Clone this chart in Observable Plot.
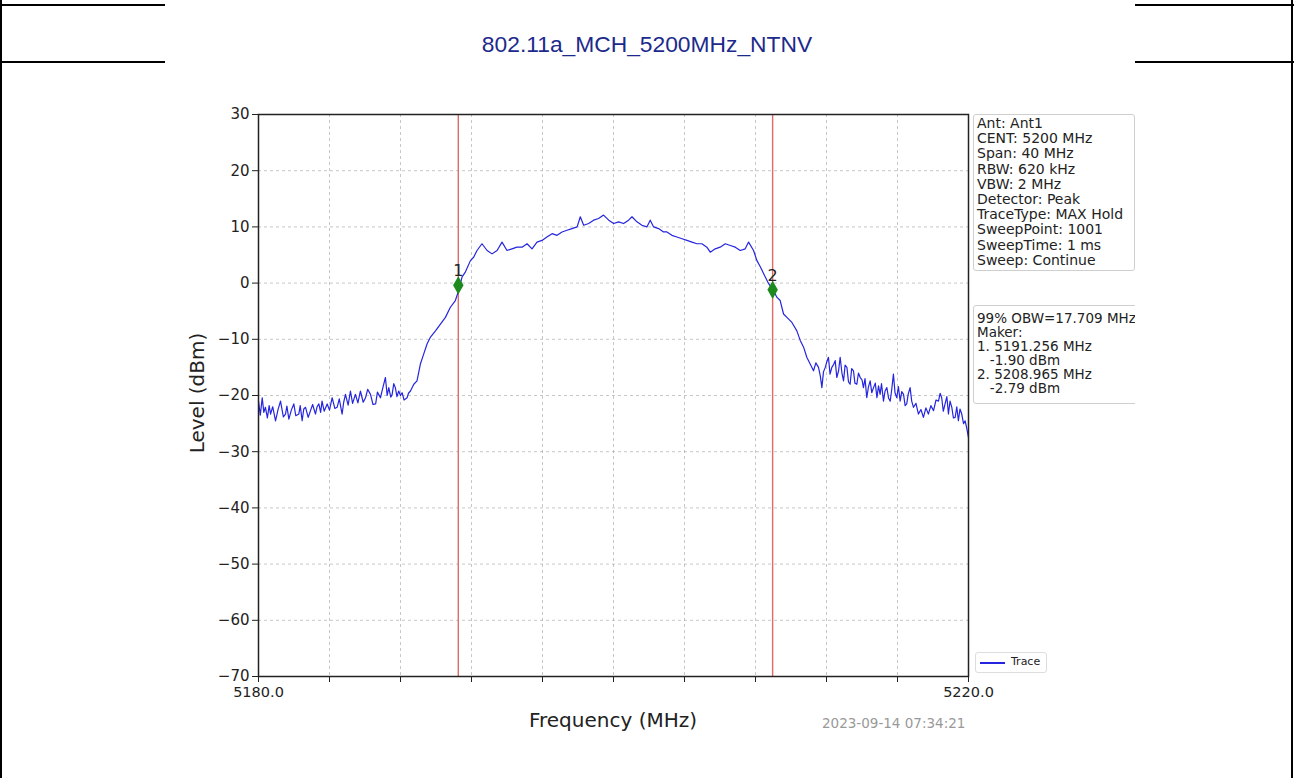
<!DOCTYPE html>
<html>
<head>
<meta charset="utf-8">
<script src="https://cdn.jsdelivr.net/npm/d3@7"></script>
<script src="https://cdn.jsdelivr.net/npm/@observablehq/plot@0.6"></script>
<style>
  body { margin: 0; background: #fff; }
  #page { position: relative; width: 1294px; height: 778px; overflow: hidden; background: #fff; font-family: "DejaVu Sans", sans-serif; color: #222; }
  .bar { position: absolute; background: #000; }
  .abs { position: absolute; white-space: nowrap; }
  .box { position: absolute; border: 1px solid #cfcfcf; border-radius: 3px; background: #fff; font-size: 14px; color: #222; padding: 1px 3px; box-sizing: border-box; overflow: hidden; white-space: nowrap; }
</style>
</head>
<body>
<div id="page">
  <div class="bar" style="left:0;top:0;width:2px;height:778px"></div>
  <div class="bar" style="left:1291px;top:0;width:2px;height:778px"></div>
  <div class="bar" style="left:0;top:4px;width:165px;height:2px"></div>
  <div class="bar" style="left:1135px;top:4px;width:159px;height:2px"></div>
  <div class="bar" style="left:0;top:61px;width:165px;height:2px"></div>
  <div class="bar" style="left:1135px;top:61px;width:159px;height:2px"></div>
  <div id="title" class="abs" style="left:0;width:1294px;top:31px;text-align:center;font-family:'Liberation Sans',Arial,sans-serif;font-size:22.8px;color:#1c2a8c;"></div>
  <div id="chart" style="position:absolute;left:0;top:0"></div>
  <div id="ylabel" class="abs" style="left:197px;top:393px;transform:translate(-50%,-50%) rotate(-90deg);font-size:20px;color:#222;"></div>
  <div id="xlabel" class="abs" style="left:613px;top:720px;transform:translate(-50%,-50%);font-size:20px;color:#222;"></div>
  <div id="stamp" class="abs" style="left:822px;top:723px;transform:translate(0,-50%);font-size:13.5px;color:#999;"></div>
  <div id="info1" class="box" style="left:973px;top:114px;width:162px;height:157px;line-height:15.2px;padding-top:1px"></div>
  <div style="position:absolute;left:973px;top:305px;width:162px;height:99px;overflow:hidden">
    <div id="info2" class="box" style="left:0;top:0;width:190px;height:99px;font-size:13.5px;line-height:14px;padding-top:5px"></div>
  </div>
  <div class="box" style="left:975px;top:652px;width:72px;height:21px;border-color:#ddd">
    <div style="position:absolute;left:4px;top:9px;width:25px;height:1.5px;background:#2525e0"></div>
    <div id="legendText" class="abs" style="left:35px;top:2px;font-size:11px;color:#222"></div>
  </div>
</div>
<script>
// ---- data ----
const titleText = "802.11a_MCH_5200MHz_NTNV";
const yLabel = "Level (dBm)";
const xLabel = "Frequency (MHz)";
const stampText = "2023-09-14 07:34:21";
const legendLabel = "Trace";

const xTicks = [5180, 5184, 5188, 5192, 5196, 5200, 5204, 5208, 5212, 5216, 5220];
const xLabelTicks = [5180, 5220];
const yTicks = [30, 20, 10, 0, -10, -20, -30, -40, -50, -60, -70];

const infoLines = ["Ant: Ant1", "CENT: 5200 MHz", "Span: 40 MHz", "RBW: 620 kHz", "VBW: 2 MHz",
  "Detector: Peak", "TraceType: MAX Hold", "SweepPoint: 1001", "SweepTime: 1 ms", "Sweep: Continue"];
const markerInfoLines = ["99% OBW=17.709 MHz", "Maker:", "1. 5191.256 MHz", "\u00a0\u00a0\u00a0-1.90 dBm", "2. 5208.965 MHz", "\u00a0\u00a0\u00a0-2.79 dBm"];

const markerLabels = ["1", "2"];
const markerFreq = [5191.256, 5208.965];
const markerLevel = [-0.4, -1.2];

const traceFreq = [
  5180.00, 5180.10, 5180.21, 5180.30, 5180.39, 5180.50, 5180.60, 5180.68, 5180.80, 5180.96,
  5181.10, 5181.24, 5181.40, 5181.52, 5181.60, 5181.71, 5181.85, 5181.99, 5182.10, 5182.27,
  5182.35, 5182.46, 5182.55, 5182.65, 5182.80, 5182.93, 5183.05, 5183.21, 5183.30, 5183.40,
  5183.50, 5183.58, 5183.70, 5183.87, 5184.00, 5184.15, 5184.30, 5184.43, 5184.55, 5184.71,
  5184.80, 5184.90, 5185.05, 5185.18, 5185.30, 5185.46, 5185.60, 5185.74, 5185.90, 5186.03,
  5186.15, 5186.31, 5186.45, 5186.60, 5186.70, 5186.87, 5187.00, 5187.15, 5187.25, 5187.34,
  5187.45, 5187.53, 5187.62, 5187.71, 5187.80, 5187.90, 5188.00, 5188.09, 5188.20, 5188.37,
  5188.45, 5188.56, 5188.75,
  5188.93, 5189.12, 5189.31, 5189.50, 5189.69, 5189.97, 5190.25, 5190.53, 5190.81, 5191.09,
  5191.28, 5191.47, 5191.66, 5191.94, 5192.12, 5192.31, 5192.59, 5192.88, 5193.16, 5193.44,
  5193.72, 5194.00, 5194.28, 5194.56, 5194.85, 5195.13, 5195.41, 5195.69, 5195.97, 5196.25,
  5196.54, 5196.82, 5197.10, 5197.38, 5197.66, 5197.95, 5198.13, 5198.32, 5198.60, 5198.88,
  5199.16, 5199.44, 5199.73, 5200.01,
  5200.29, 5200.57, 5200.85, 5201.04, 5201.32, 5201.60, 5201.88, 5202.07, 5202.26, 5202.54,
  5202.82, 5203.01, 5203.29, 5203.57, 5203.86, 5204.14, 5204.42, 5204.70, 5204.98, 5205.26,
  5205.45, 5205.73, 5206.01, 5206.30, 5206.58, 5206.86, 5207.14, 5207.42, 5207.61, 5207.89,
  5208.08, 5208.27, 5208.55, 5208.74, 5209.02, 5209.20, 5209.39, 5209.58, 5209.77, 5210.05,
  5210.33, 5210.52, 5210.71, 5210.89, 5211.08,
  5211.27, 5211.40, 5211.55, 5211.65, 5211.74, 5211.83, 5211.93, 5212.02, 5212.11, 5212.20,
  5212.30, 5212.40, 5212.49, 5212.58, 5212.68, 5212.77, 5212.87, 5212.96, 5213.05, 5213.15,
  5213.24, 5213.33, 5213.42, 5213.52, 5213.60, 5213.71, 5213.80, 5213.90, 5214.00, 5214.08,
  5214.17, 5214.27, 5214.36, 5214.46, 5214.55, 5214.65, 5214.75, 5214.84, 5214.93, 5215.02,
  5215.10, 5215.21, 5215.30, 5215.40, 5215.50, 5215.59, 5215.68, 5215.77, 5215.86, 5215.96,
  5216.05, 5216.15, 5216.24, 5216.34, 5216.43, 5216.52, 5216.60, 5216.71, 5216.80, 5216.90,
  5217.04, 5217.18, 5217.32, 5217.46, 5217.60, 5217.74, 5217.88, 5218.03, 5218.17, 5218.31,
  5218.40, 5218.49, 5218.58, 5218.68, 5218.78, 5218.87, 5218.96, 5219.06, 5219.15, 5219.25,
  5219.34, 5219.43, 5219.52, 5219.62, 5219.72, 5219.81, 5219.90, 5220.00
];
const traceLevel = [
  -21.0, -23.5, -20.4, -23.0, -22.1, -24.0, -21.8, -23.3, -22.0, -24.5,
  -22.5, -21.0, -23.8, -23.3, -21.9, -24.2, -22.6, -21.5, -23.6, -23.3,
  -21.8, -24.5, -22.4, -22.1, -23.9, -22.7, -21.6, -23.3, -22.0, -21.5,
  -23.0, -21.0, -22.8, -21.5, -22.6, -20.4, -22.3, -22.1, -20.6, -23.3,
  -21.2, -19.8, -21.7, -19.2, -21.4, -19.8, -21.3, -19.2, -21.2, -20.4,
  -18.9, -19.8, -21.6, -21.5, -19.4, -20.4, -18.7, -16.8, -20.0, -18.6,
  -20.3, -19.8, -17.9, -18.6, -20.2, -19.2, -20.0, -19.5, -20.8, -20.4,
  -19.6, -19.2, -18.0,
  -17.4, -14.4, -12.6, -10.8, -9.6, -8.5, -7.3, -6.1, -4.3, -3.1,
  -1.3, 1.1, 2.0, 4.0, 4.6, 5.8, 7.0, 5.8, 5.2, 5.8,
  7.3, 5.8, 6.1, 6.4, 6.4, 7.0, 6.1, 7.3, 7.6, 8.2,
  8.8, 8.5, 9.1, 9.4, 9.7, 10.0, 11.8, 10.3, 10.6, 11.2,
  11.5, 12.1, 11.2, 10.6,
  10.9, 10.6, 11.2, 11.8, 10.9, 10.3, 10.0, 11.2, 10.0, 9.7,
  9.1, 9.1, 8.5, 8.2, 7.9, 7.6, 7.3, 7.0, 7.0, 6.4,
  5.5, 6.1, 6.4, 7.0, 6.7, 6.4, 5.8, 6.1, 7.3, 5.8,
  4.0, 2.9, 1.1, -0.1, -1.3, -2.5, -3.1, -5.5, -6.1, -7.0,
  -8.5, -10.2, -11.4, -13.2, -14.4,
  -15.6, -14.2, -15.0, -16.5, -18.6, -15.8, -15.0, -14.0, -13.2, -16.2,
  -15.0, -14.5, -13.8, -16.8, -15.6, -13.2, -16.0, -17.4, -14.6, -15.0,
  -17.6, -18.0, -15.2, -15.6, -17.8, -18.0, -16.0, -16.8, -17.2, -18.6,
  -17.0, -20.4, -18.5, -17.4, -19.5, -18.6, -17.8, -20.4, -18.3, -19.8,
  -17.9, -21.0, -19.2, -18.6, -20.5, -21.0, -18.8, -16.2, -19.5, -20.4,
  -18.4, -21.0, -19.3, -19.8, -21.8, -21.5, -19.8, -18.6, -21.0, -22.1,
  -21.4, -23.3, -22.5, -23.9, -22.2, -23.3, -21.8, -22.7, -20.8, -21.0,
  -19.6, -20.4, -22.8, -21.5, -20.2, -23.3, -21.0, -22.1, -24.0, -23.9,
  -22.0, -24.5, -22.4, -23.3, -25.0, -24.5, -25.8, -27.5
];

// ---- build ----
const trace = traceFreq.map((f, i) => ({f, level: traceLevel[i]}));
const markers = markerFreq.map((f, i) => ({f, level: markerLevel[i], label: markerLabels[i]}));
const minus = d => d < 0 ? "\u2212" + Math.abs(d) : String(d);

const chart = Plot.plot({
  width: 1294,
  height: 778,
  marginLeft: 258,
  marginRight: 326,
  marginTop: 114,
  marginBottom: 102,
  x: {domain: [5180, 5220]},
  y: {domain: [-70, 30]},
  style: {fontFamily: "'DejaVu Sans'", fontSize: "15px", color: "#222", background: "transparent"},
  marks: [
    Plot.gridX(xTicks, {stroke: "#9a9a9a", strokeOpacity: 0.7, strokeDasharray: "3,3", strokeWidth: 0.8}),
    Plot.gridY(yTicks, {stroke: "#9a9a9a", strokeOpacity: 0.7, strokeDasharray: "3,3", strokeWidth: 0.8}),
    Plot.ruleX(markerFreq, {stroke: "#e06a6a", strokeWidth: 1.4}),
    Plot.line(trace, {x: "f", y: "level", stroke: "#2525e0", strokeWidth: 1.2}),
    Plot.dot(markers, {x: "f", y: "level", symbol: "diamond", fill: "#1c8a1c", r: 5.5}),
    Plot.text(markers, {x: "f", y: "level", text: "label", dy: -14, fontSize: 16, fill: "#222"}),
    Plot.frame({stroke: "#222", strokeWidth: 1.5}),
    Plot.axisY(yTicks, {tickSize: 6, tickPadding: 3, tickFormat: minus, fontSize: 15, label: null}),
    Plot.axisX(xTicks, {tickSize: 6, tickFormat: () => "", label: null}),
    Plot.axisX(xLabelTicks, {tickSize: 0, tickPadding: 10, tickFormat: d => d.toFixed(1), fontSize: 14.5, label: null})
  ]
});
document.getElementById("chart").append(chart);

document.getElementById("title").textContent = titleText;
document.getElementById("ylabel").textContent = yLabel;
document.getElementById("xlabel").textContent = xLabel;
document.getElementById("stamp").textContent = stampText;
document.getElementById("legendText").textContent = legendLabel;
document.getElementById("info1").innerHTML = infoLines.map(s => `<div>${s}</div>`).join("");
document.getElementById("info2").innerHTML = markerInfoLines.map(s => `<div>${s}</div>`).join("");
</script>
</body>
</html>
